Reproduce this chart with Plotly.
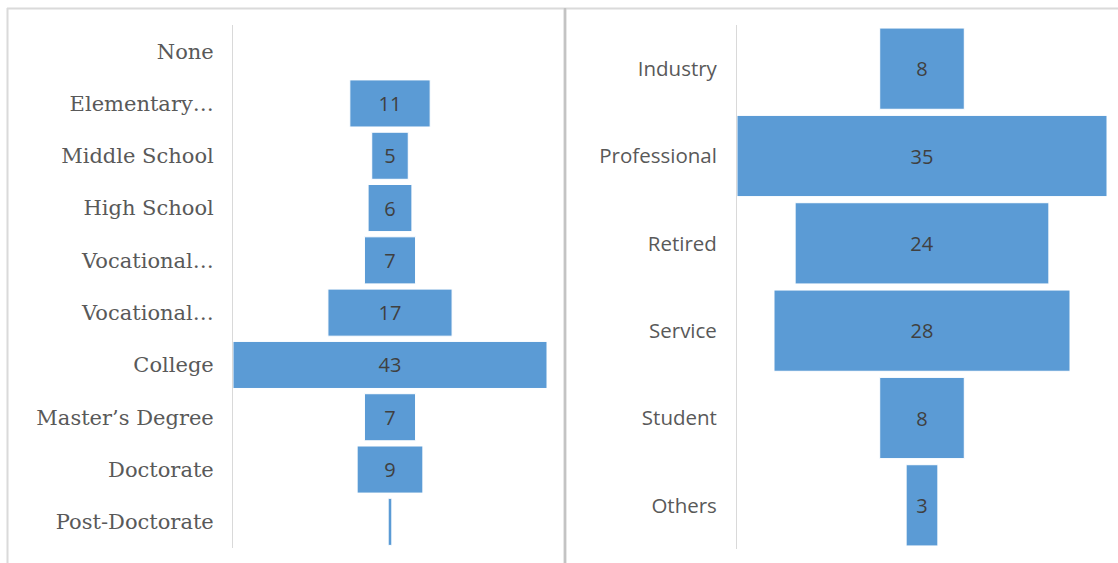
import plotly.graph_objects as go

# Education level counts (top to bottom)
edu_labels = ["None", "Elementary…", "Middle School", "High School", "Vocational…",
              "Vocational…", "College", "Master’s Degree", "Doctorate", "Post-Doctorate"]
edu_counts = [0, 11, 5, 6, 7, 17, 43, 7, 9, 0.5]

# Occupation counts (top to bottom)
job_labels = ["Industry", "Professional", "Retired", "Service", "Student", "Others"]
job_counts = [8, 35, 24, 28, 8, 3]

W, H = 1118, 563
BAR = "#5b9bd5"
LABEL_GRAY = "#595959"
NUM_GRAY = "#404040"
SANS = "Open Sans"
SERIF = "DejaVu Serif"


def bar_text(values):
    return [f"{v:g}" if v >= 1 else "" for v in values]


def px_x(p):
    return p / W


def px_y(p):
    return 1 - p / H


fig = go.Figure()

fig.add_trace(go.Funnel(
    y=list(range(len(edu_labels))), x=edu_counts,
    text=bar_text(edu_counts), textinfo="text", textposition="inside",
    insidetextanchor="middle", constraintext="none",
    insidetextfont=dict(family=SANS, size=20, color=NUM_GRAY),
    marker=dict(color=BAR, line=dict(color="#ffffff", width=1)),
    connector=dict(visible=False), width=0.9,
    xaxis="x", yaxis="y", showlegend=False,
))

fig.add_trace(go.Funnel(
    y=list(range(len(job_labels))), x=job_counts,
    text=bar_text(job_counts), textinfo="text", textposition="inside",
    insidetextanchor="middle", constraintext="none",
    insidetextfont=dict(family=SANS, size=20, color=NUM_GRAY),
    marker=dict(color=BAR, line=dict(color="#ffffff", width=1)),
    connector=dict(visible=False), width=0.93,
    xaxis="x2", yaxis="y2", showlegend=False,
))

axis_common = dict(showgrid=False, zeroline=False)

fig.update_layout(
    width=W, height=H,
    margin=dict(l=0, r=0, t=0, b=0),
    paper_bgcolor="white", plot_bgcolor="white",
    xaxis=dict(domain=[px_x(233), px_x(547)], range=[-max(edu_counts) / 2, max(edu_counts) / 2],
               visible=False, **axis_common),
    yaxis=dict(domain=[px_y(548), px_y(25)], range=[len(edu_labels) - 0.5, -0.5],
               tickvals=list(range(len(edu_labels))), ticktext=edu_labels,
               showline=True, linecolor="#d9d9d9", linewidth=1, ticks="",
               ticklabelstandoff=14,
               tickfont=dict(family=SERIF, size=21, color=LABEL_GRAY), **axis_common),
    xaxis2=dict(domain=[px_x(737), px_x(1107)], range=[-max(job_counts) / 2, max(job_counts) / 2],
                visible=False, anchor="y2", **axis_common),
    yaxis2=dict(domain=[px_y(549), px_y(25)], range=[len(job_labels) - 0.5, -0.5],
                tickvals=list(range(len(job_labels))), ticktext=job_labels,
                showline=True, linecolor="#d9d9d9", linewidth=1, ticks="",
                ticklabelstandoff=15, anchor="x2",
                tickfont=dict(family=SANS, size=20.5, color=LABEL_GRAY), **axis_common),
)

# Panel frames: top rule, left edge and the divider between the two charts
frame = [
    dict(x0=px_x(7), x1=1, y0=px_y(8.5), y1=px_y(8.5), color="#dadada", width=2),
    dict(x0=px_x(7.5), x1=px_x(7.5), y0=px_y(8), y1=0, color="#dadada", width=2),
    dict(x0=px_x(565), x1=px_x(565), y0=px_y(8), y1=0, color="#cfcfcf", width=3),
    dict(x0=px_x(565), x1=px_x(565), y0=px_y(8), y1=0, color="#b8b8b8", width=1),
]
for f in frame:
    fig.add_shape(type="line", xref="paper", yref="paper",
                  x0=f["x0"], x1=f["x1"], y0=f["y0"], y1=f["y1"],
                  line=dict(color=f["color"], width=f["width"]))

fig.write_html("out.html")
